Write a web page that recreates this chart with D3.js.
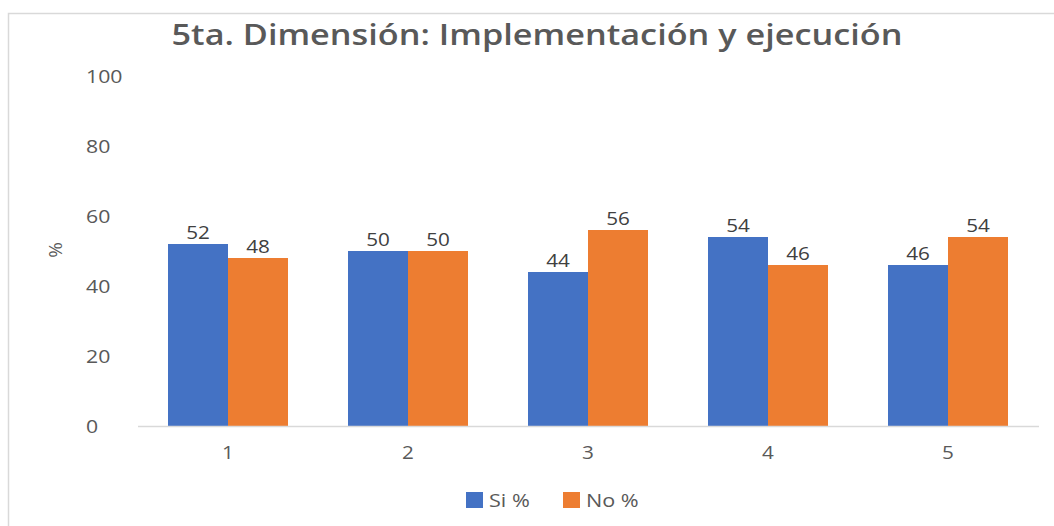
<!DOCTYPE html>
<html>
<head>
<meta charset="utf-8">
<script src="https://cdn.jsdelivr.net/npm/d3@7"></script>
<style>
  body { margin: 0; background: #fff; }
  svg { display: block; font-family: "Open Sans", "Noto Sans", sans-serif; }
</style>
</head>
<body>
<div id="chart"></div>
<script>
// data
var categories = ["1", "2", "3", "4", "5"];
var seriesNames = ["Si %", "No %"];
var siValues = [52, 50, 44, 54, 46];
var noValues = [48, 50, 56, 46, 54];
var yTicks = [0, 20, 40, 60, 80, 100];
var colors = ["#4472c4", "#ed7d31"];

var width = 1054, height = 526;

var svg = d3.select("#chart").append("svg")
  .attr("width", width)
  .attr("height", height);

// the original picture is a bit stretched sideways, so widen text glyphs
function stretch(sel, factor) {
  sel.each(function() {
    var w = this.getComputedTextLength();
    d3.select(this)
      .attr("textLength", w * factor)
      .attr("lengthAdjust", "spacingAndGlyphs");
  });
}

// frame of the chart area
svg.append("path")
  .attr("d", "M8.5," + height + " V13.5 H" + width)
  .attr("fill", "none")
  .attr("stroke", "#d9d9d9")
  .attr("stroke-width", 1.5);

var x = d3.scaleBand()
  .domain(categories)
  .range([138, 1038])
  .paddingInner(1 / 3)
  .paddingOuter(1 / 6);

var xSub = d3.scaleBand()
  .domain(seriesNames)
  .range([0, x.bandwidth()]);

var y = d3.scaleLinear()
  .domain([0, 100])
  .range([426, 76]);

// title
svg.append("text")
  .attr("x", 537)
  .attr("y", 45)
  .attr("text-anchor", "middle")
  .attr("fill", "#595959")
  .attr("textLength", 731)
  .attr("lengthAdjust", "spacingAndGlyphs")
  .style("font-size", "29px")
  .style("font-weight", "600")
  .text("5ta. Dimensión: Implementación y ejecución");

// y tick labels (left aligned, like the original)
svg.selectAll("text.ytick")
  .data(yTicks)
  .enter()
  .append("text")
  .attr("class", "ytick")
  .attr("x", 86)
  .attr("y", function(d) { return y(d) + 7; })
  .attr("fill", "#595959")
  .style("font-size", "18px")
  .text(function(d) { return d; })
  .call(stretch, 1.18);

// y axis title
svg.append("text")
  .attr("transform", "translate(62,250) rotate(-90)")
  .attr("text-anchor", "middle")
  .attr("fill", "#595959")
  .style("font-size", "19px")
  .text("%");

// bars
var rows = categories.map(function(c, i) {
  return { cat: c, vals: [siValues[i], noValues[i]] };
});

var groups = svg.selectAll("g.group")
  .data(rows)
  .enter()
  .append("g")
  .attr("class", "group")
  .attr("transform", function(d) { return "translate(" + x(d.cat) + ",0)"; });

groups.selectAll("rect")
  .data(function(d) { return d.vals.map(function(v, j) { return { key: seriesNames[j], value: v, idx: j }; }); })
  .enter()
  .append("rect")
  .attr("x", function(d) { return xSub(d.key); })
  .attr("width", xSub.bandwidth())
  .attr("y", function(d) { return y(d.value); })
  .attr("height", function(d) { return y(0) - y(d.value); })
  .attr("fill", function(d) { return colors[d.idx]; });

groups.selectAll("text")
  .data(function(d) { return d.vals.map(function(v, j) { return { key: seriesNames[j], value: v }; }); })
  .enter()
  .append("text")
  .attr("x", function(d) { return xSub(d.key) + xSub.bandwidth() / 2; })
  .attr("y", function(d) { return y(d.value) - 5; })
  .attr("text-anchor", "middle")
  .attr("fill", "#404040")
  .style("font-size", "18px")
  .text(function(d) { return d.value; })
  .call(stretch, 1.15);

// baseline
svg.append("line")
  .attr("x1", 138)
  .attr("x2", 1039)
  .attr("y1", y(0) + 0.5)
  .attr("y2", y(0) + 0.5)
  .attr("stroke", "#d9d9d9")
  .attr("stroke-width", 1.5);

// x labels
svg.selectAll("text.xtick")
  .data(categories)
  .enter()
  .append("text")
  .attr("class", "xtick")
  .attr("x", function(d) { return x(d) + x.bandwidth() / 2; })
  .attr("y", 459)
  .attr("text-anchor", "middle")
  .attr("fill", "#595959")
  .style("font-size", "18px")
  .text(function(d) { return d; })
  .call(stretch, 1.15);

// legend
var legendX = [466, 563];
var legend = svg.selectAll("g.legend")
  .data(seriesNames)
  .enter()
  .append("g")
  .attr("class", "legend")
  .attr("transform", function(d, i) { return "translate(" + legendX[i] + ",492)"; });

legend.append("rect")
  .attr("width", 17)
  .attr("height", 16)
  .attr("fill", function(d, i) { return colors[i]; });

legend.append("text")
  .attr("x", 23)
  .attr("y", 15)
  .attr("fill", "#595959")
  .style("font-size", "18px")
  .text(function(d) { return d; })
  .call(stretch, 1.2);
</script>
</body>
</html>
